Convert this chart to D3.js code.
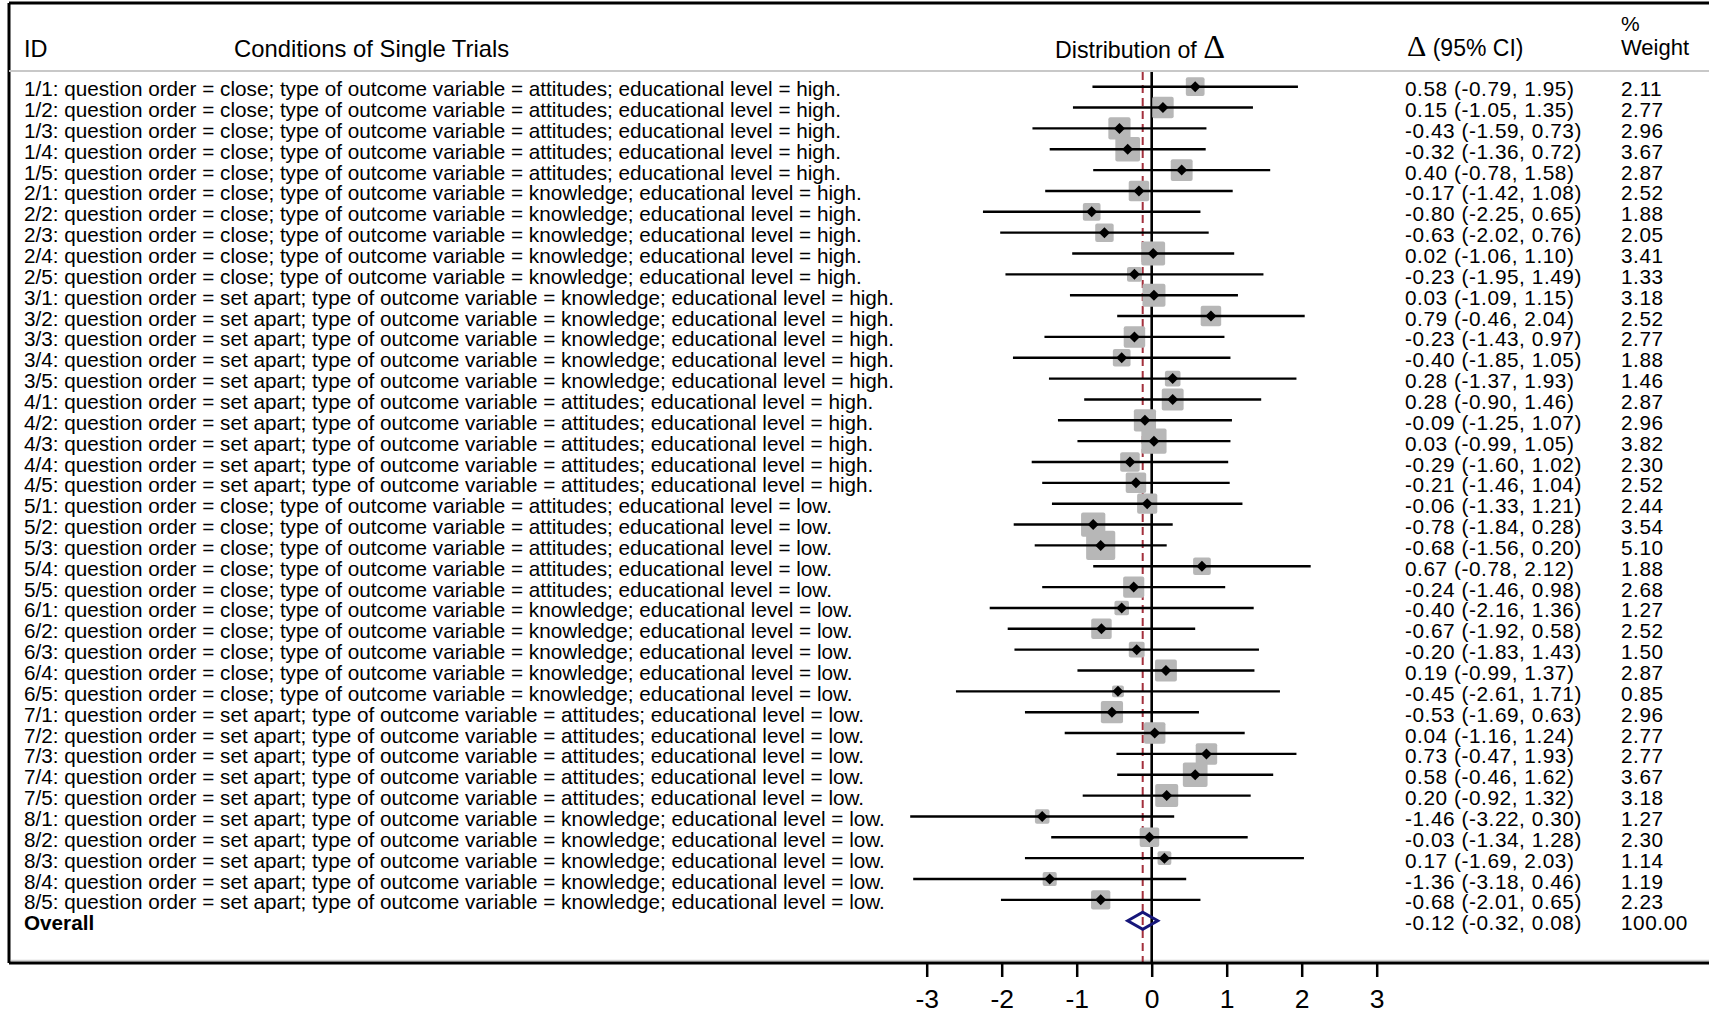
<!DOCTYPE html>
<html>
<head>
<meta charset="utf-8">
<script src="https://cdn.jsdelivr.net/npm/d3@7"></script>
<style>
  body { margin: 0; background: #fff; }
  text { font-family: "Liberation Sans", Arial, Helvetica, sans-serif; fill: #000; }
  .serif { font-family: "Liberation Serif", "Times New Roman", serif; }
</style>
</head>
<body>
<svg id="chart" width="1709" height="1014"></svg>
<script>
// trial ids, 8 groups x 5 trials
const ids = ["1/1","1/2","1/3","1/4","1/5","2/1","2/2","2/3","2/4","2/5",
             "3/1","3/2","3/3","3/4","3/5","4/1","4/2","4/3","4/4","4/5",
             "5/1","5/2","5/3","5/4","5/5","6/1","6/2","6/3","6/4","6/5",
             "7/1","7/2","7/3","7/4","7/5","8/1","8/2","8/3","8/4","8/5"];

// conditions per group (1..8)
const questionOrder = ["close","close","set apart","set apart","close","close","set apart","set apart"];
const outcomeType   = ["attitudes","knowledge","knowledge","attitudes","attitudes","knowledge","attitudes","knowledge"];
const eduLevel      = ["high","high","high","high","low","low","low","low"];

const delta = [0.58,0.15,-0.43,-0.32,0.40,-0.17,-0.80,-0.63,0.02,-0.23,
               0.03,0.79,-0.23,-0.40,0.28,0.28,-0.09,0.03,-0.29,-0.21,
               -0.06,-0.78,-0.68,0.67,-0.24,-0.40,-0.67,-0.20,0.19,-0.45,
               -0.53,0.04,0.73,0.58,0.20,-1.46,-0.03,0.17,-1.36,-0.68];
const ciLow = [-0.79,-1.05,-1.59,-1.36,-0.78,-1.42,-2.25,-2.02,-1.06,-1.95,
               -1.09,-0.46,-1.43,-1.85,-1.37,-0.90,-1.25,-0.99,-1.60,-1.46,
               -1.33,-1.84,-1.56,-0.78,-1.46,-2.16,-1.92,-1.83,-0.99,-2.61,
               -1.69,-1.16,-0.47,-0.46,-0.92,-3.22,-1.34,-1.69,-3.18,-2.01];
const ciHigh = [1.95,1.35,0.73,0.72,1.58,1.08,0.65,0.76,1.10,1.49,
                1.15,2.04,0.97,1.05,1.93,1.46,1.07,1.05,1.02,1.04,
                1.21,0.28,0.20,2.12,0.98,1.36,0.58,1.43,1.37,1.71,
                0.63,1.24,1.93,1.62,1.32,0.30,1.28,2.03,0.46,0.65];
const weight = [2.11,2.77,2.96,3.67,2.87,2.52,1.88,2.05,3.41,1.33,
                3.18,2.52,2.77,1.88,1.46,2.87,2.96,3.82,2.30,2.52,
                2.44,3.54,5.10,1.88,2.68,1.27,2.52,1.50,2.87,0.85,
                2.96,2.77,2.77,3.67,3.18,1.27,2.30,1.14,1.19,2.23];

const overall = {est: -0.12, low: -0.32, high: 0.08, weight: 100.00};
const xTicks = [-3,-2,-1,0,1,2,3];

const rows = ids.map((id, i) => {
  const g = +id.split("/")[0] - 1;
  return {
    id: id,
    label: id + ": question order = " + questionOrder[g] + "; type of outcome variable = " +
           outcomeType[g] + "; educational level = " + eduLevel[g] + ".",
    est: delta[i], low: ciLow[i], high: ciHigh[i], w: weight[i], i: i
  };
});

const f2 = v => v.toFixed(2);
const ciText = d => f2(d.est) + " (" + f2(d.low) + ", " + f2(d.high) + ")";

const svg = d3.select("#chart");
const W = 1709;
const frameTop = 3, frameLeft = 9, frameBottom = 963, headerLine = 71;

const x = d3.scaleLinear().domain([-3, 3]).range([926.7, 1376.7]);
const y = d3.scaleLinear().domain([0, 40]).range([86.7, 920.7]);
const side = d3.scaleSqrt().domain([0, 1]).range([0, 12.9]);

// frame
svg.append("line").attr("x1", frameLeft).attr("x2", W + 5).attr("y1", frameTop).attr("y2", frameTop)
  .attr("stroke", "#000").attr("stroke-width", 3);
svg.append("line").attr("x1", frameLeft).attr("x2", frameLeft).attr("y1", frameTop).attr("y2", frameBottom)
  .attr("stroke", "#000").attr("stroke-width", 3);
svg.append("line").attr("x1", frameLeft + 2).attr("x2", W + 5).attr("y1", frameBottom - 2.5).attr("y2", frameBottom - 2.5)
  .attr("stroke", "#d0d0d0").attr("stroke-width", 1.5);
svg.append("line").attr("x1", frameLeft).attr("x2", W + 5).attr("y1", headerLine).attr("y2", headerLine)
  .attr("stroke", "#c8c8c8").attr("stroke-width", 2);

// headers
const hdr = svg.append("g");
hdr.append("text").attr("x", 24).attr("y", 57).attr("font-size", 23.5).text("ID");
hdr.append("text").attr("x", 234).attr("y", 57).attr("font-size", 23.8).text("Conditions of Single Trials");
const dist = hdr.append("text").attr("x", 1055).attr("y", 58).attr("font-size", 23.2);
dist.append("tspan").text("Distribution of ");
dist.append("tspan").attr("class", "serif").attr("font-size", 34).text("\u0394");
const ch = hdr.append("text").attr("x", 1407).attr("y", 56).attr("font-size", 23);
ch.append("tspan").attr("class", "serif").attr("font-size", 30).text("\u0394");
ch.append("tspan").text(" (95% CI)");
hdr.append("text").attr("x", 1621).attr("y", 31).attr("font-size", 21).text("%");
hdr.append("text").attr("x", 1621).attr("y", 55).attr("font-size", 22).text("Weight");

// reference lines
svg.append("line").attr("x1", x(0)).attr("x2", x(0)).attr("y1", headerLine + 1).attr("y2", frameBottom)
  .attr("stroke", "#000").attr("stroke-width", 2.6);
svg.append("line").attr("x1", x(overall.est)).attr("x2", x(overall.est)).attr("y1", headerLine + 1).attr("y2", frameBottom)
  .attr("stroke", "#a3303c").attr("stroke-width", 2).attr("stroke-dasharray", "8,5");

// weight squares
svg.append("g").selectAll("rect").data(rows).join("rect")
  .attr("x", d => x(d.est) - side(d.w) / 2)
  .attr("y", d => y(d.i) - side(d.w) / 2)
  .attr("width", d => side(d.w)).attr("height", d => side(d.w))
  .attr("rx", 2).attr("fill", "#b7b7b7");

// confidence intervals
svg.append("g").selectAll("line").data(rows).join("line")
  .attr("x1", d => x(d.low)).attr("x2", d => x(d.high))
  .attr("y1", d => y(d.i)).attr("y2", d => y(d.i))
  .attr("stroke", "#000").attr("stroke-width", 2.4);

// point estimates
svg.append("g").selectAll("path").data(rows).join("path")
  .attr("d", d => {
    const cx = x(d.est), cy = y(d.i), r = 5.5;
    return `M${cx - r},${cy}L${cx},${cy - r}L${cx + r},${cy}L${cx},${cy + r}Z`;
  })
  .attr("fill", "#000");

// overall diamond
const oy = y(40);
svg.append("path")
  .attr("d", `M${x(overall.low)},${oy}L${x(overall.est)},${oy - 8.5}L${x(overall.high)},${oy}L${x(overall.est)},${oy + 8.5}Z`)
  .attr("fill", "none").attr("stroke", "#16167a").attr("stroke-width", 3);

// row labels
const lab = svg.append("g").attr("font-size", 20.7);
lab.selectAll("text.lbl").data(rows).join("text").attr("class", "lbl")
  .attr("x", 24).attr("y", d => y(d.i) + 9.5).text(d => d.label);
lab.append("text").attr("x", 24).attr("y", oy + 9.5).attr("font-weight", "bold").text("Overall");

// estimate and weight columns
const val = svg.append("g").attr("font-size", 20.8).attr("letter-spacing", 0.55);
val.selectAll("text.ci").data(rows).join("text").attr("class", "ci")
  .attr("x", 1405).attr("y", d => y(d.i) + 9.5).text(ciText);
val.selectAll("text.wt").data(rows).join("text").attr("class", "wt")
  .attr("x", 1621).attr("y", d => y(d.i) + 9.5).text(d => f2(d.w));
val.append("text").attr("x", 1405).attr("y", oy + 9.5).text(ciText(overall));
val.append("text").attr("x", 1621).attr("y", oy + 9.5).text(f2(overall.weight));

// x axis
svg.append("line").attr("x1", frameLeft).attr("x2", W + 5).attr("y1", frameBottom).attr("y2", frameBottom)
  .attr("stroke", "#000").attr("stroke-width", 3);
const axis = svg.append("g").attr("transform", `translate(0,${frameBottom})`)
  .call(d3.axisBottom(x).tickValues(xTicks).tickFormat(d => String(d)).tickSize(14).tickPadding(12));
axis.select(".domain").remove();
axis.selectAll(".tick line").attr("stroke", "#000").attr("stroke-width", 2.5);
axis.selectAll(".tick text").attr("fill", "#000").attr("font-size", 26.5)
  .attr("font-family", "Liberation Sans, Arial, sans-serif");
</script>
</body>
</html>
